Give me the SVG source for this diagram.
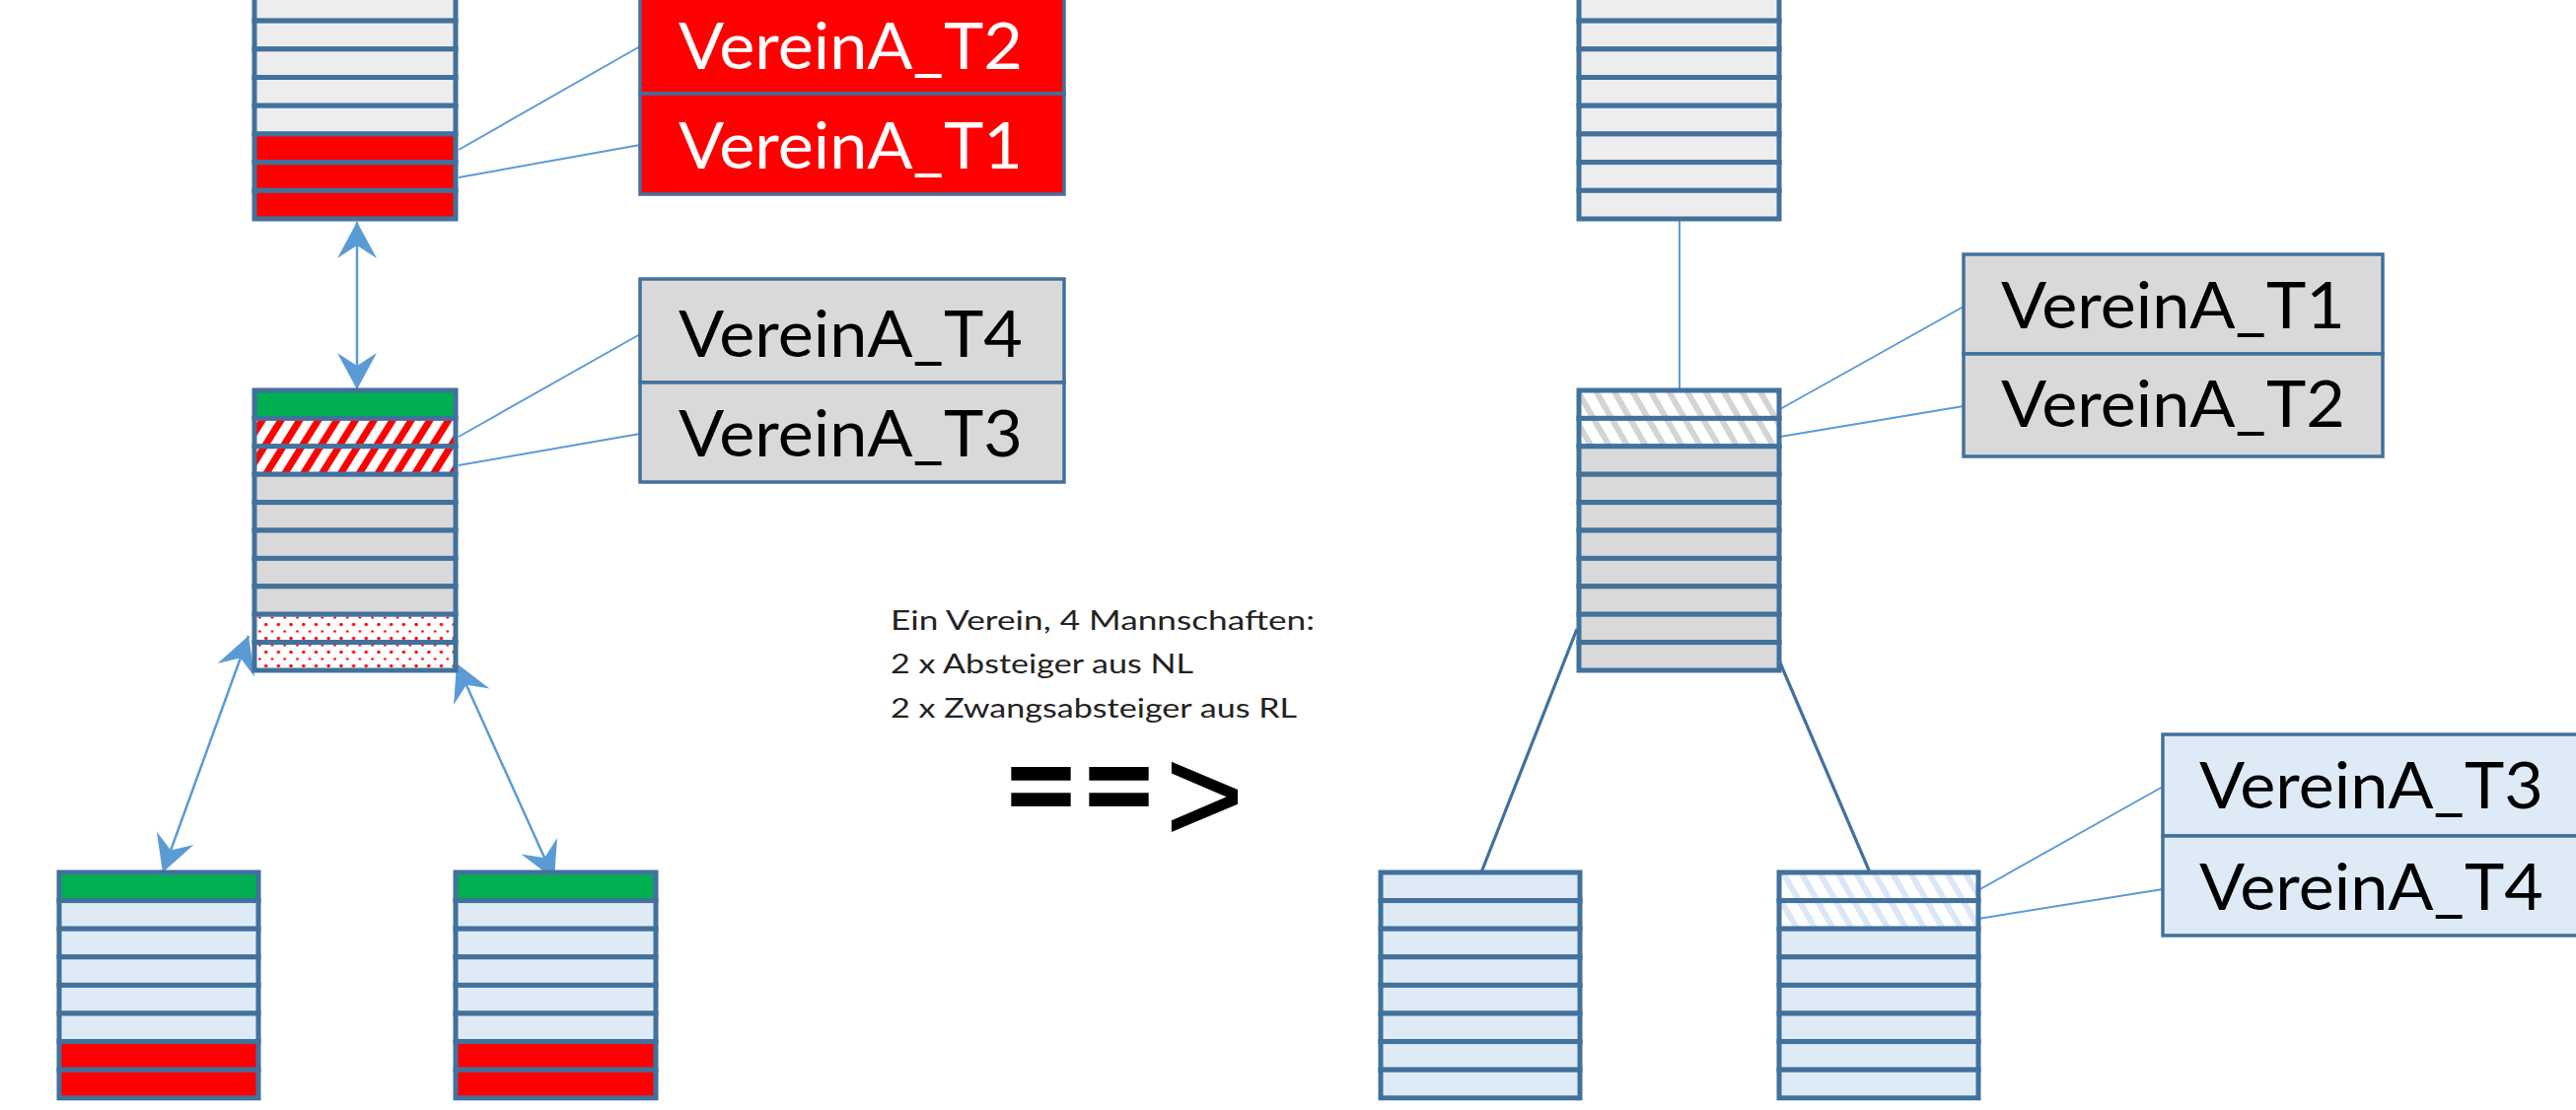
<svg xmlns="http://www.w3.org/2000/svg" width="2612" height="1126" viewBox="0 0 2612 1126">
<style>
.r{stroke:#41719c;stroke-width:5}
.g1{fill:#ededed}
.g2{fill:#d9d9d9}
.rd{fill:#ff0000}
.gr{fill:#00b050}
.lb{fill:#deebf7}
.hr{fill:url(#hatchRed)}
.hg{fill:url(#hatchGray)}
.hb{fill:url(#hatchBlue)}
.dt{fill:url(#dotsRed)}
.box{stroke:#41719c;stroke-width:3.5}
.lbl{font-family:Lato,"Open Sans",sans-serif;font-size:66px}
.note{font-family:Lato,"Open Sans",sans-serif;font-size:26px;fill:#222}
.thin{stroke:#5b9bd5;stroke-width:2;fill:none}
.arr{stroke:#5b9bd5;stroke-width:2.5;fill:none;marker-start:url(#ah);marker-end:url(#ah)}
.tree{stroke:#41719c;stroke-width:3.2;fill:none}
</style>
<defs>
<pattern id="hatchRed" patternUnits="userSpaceOnUse" width="16" height="16" patternTransform="rotate(32)">
<rect width="16" height="16" fill="#fff"/><rect width="7" height="16" fill="#ff0000"/>
</pattern>
<pattern id="hatchGray" patternUnits="userSpaceOnUse" width="16" height="16" patternTransform="rotate(-30)">
<rect width="16" height="16" fill="#fff"/><rect width="6" height="16" fill="#d4d4d4"/>
</pattern>
<pattern id="hatchBlue" patternUnits="userSpaceOnUse" width="16" height="16" patternTransform="rotate(-30)">
<rect width="16" height="16" fill="#fff"/><rect width="6" height="16" fill="#dbe7f5"/>
</pattern>
<pattern id="dotsRed" patternUnits="userSpaceOnUse" width="12.7" height="14">
<rect width="12.7" height="14" fill="#fff"/><circle cx="3" cy="3.5" r="1.7" fill="#ff0000"/><circle cx="9.35" cy="10.5" r="1.3" fill="#ff0000"/>
</pattern>
<marker id="ah" viewBox="-40 -22 42 44" refX="0" refY="0" markerWidth="42" markerHeight="44" markerUnits="userSpaceOnUse" orient="auto-start-reverse">
<path d="M0,0 L-37,-20 L-24,0 L-37,20 Z" fill="#5b9bd5"/>
</marker>
</defs>
<rect width="2612" height="1126" fill="#fff"/>

<g id="connectors">
<line class="thin" x1="465" y1="152" x2="649" y2="47"/>
<line class="thin" x1="465" y1="180" x2="649" y2="147"/>
<line class="thin" x1="465" y1="443" x2="649" y2="339"/>
<line class="thin" x1="465" y1="472" x2="649" y2="440"/>
<line class="arr" x1="362" y1="225" x2="362" y2="395"/>
<line class="arr" x1="252" y1="645" x2="165" y2="885"/>
<line class="arr" x1="463" y1="673" x2="562" y2="892"/>
<line class="thin" x1="1703" y1="222" x2="1703" y2="396"/>
<line class="tree" x1="1599" y1="638" x2="1502" y2="885"/>
<line class="tree" x1="1804" y1="670" x2="1899" y2="892"/>
<line class="thin" x1="1805" y1="415" x2="1991" y2="311"/>
<line class="thin" x1="1805" y1="443" x2="1991" y2="412"/>
<line class="thin" x1="2006" y1="903" x2="2193" y2="798"/>
<line class="thin" x1="2006" y1="932" x2="2193" y2="902"/>
</g>

<g id="stack-left-top">
<rect class="r g1" x="258" y="-7.6" width="204" height="28.7"/>
<rect class="r g1" x="258" y="21.1" width="204" height="28.7"/>
<rect class="r g1" x="258" y="49.8" width="204" height="28.7"/>
<rect class="r g1" x="258" y="78.5" width="204" height="28.7"/>
<rect class="r g1" x="258" y="107.2" width="204" height="28.7"/>
<rect class="r rd" x="258" y="135.9" width="204" height="28.7"/>
<rect class="r rd" x="258" y="164.6" width="204" height="28.7"/>
<rect class="r rd" x="258" y="193.3" width="204" height="28.7"/>
</g>

<g id="stack-left-middle">
<rect class="r gr" x="258" y="396" width="204" height="28.4"/>
<rect class="r hr" x="258" y="424.4" width="204" height="28.4"/>
<rect class="r hr" x="258" y="452.8" width="204" height="28.4"/>
<rect class="r g2" x="258" y="481.2" width="204" height="28.4"/>
<rect class="r g2" x="258" y="509.6" width="204" height="28.4"/>
<rect class="r g2" x="258" y="538" width="204" height="28.4"/>
<rect class="r g2" x="258" y="566.4" width="204" height="28.4"/>
<rect class="r g2" x="258" y="594.8" width="204" height="28.4"/>
<rect class="r dt" x="258" y="623.2" width="204" height="28.4"/>
<rect class="r dt" x="258" y="651.6" width="204" height="28.4"/>
</g>

<g id="stack-left-bottom-1">
<rect class="r gr" x="60" y="885" width="202" height="28.6"/>
<rect class="r lb" x="60" y="913.6" width="202" height="28.6"/>
<rect class="r lb" x="60" y="942.2" width="202" height="28.6"/>
<rect class="r lb" x="60" y="970.8" width="202" height="28.6"/>
<rect class="r lb" x="60" y="999.4" width="202" height="28.6"/>
<rect class="r lb" x="60" y="1028" width="202" height="28.6"/>
<rect class="r rd" x="60" y="1056.6" width="202" height="28.6"/>
<rect class="r rd" x="60" y="1085.2" width="202" height="28.6"/>
</g>

<g id="stack-left-bottom-2">
<rect class="r gr" x="462" y="885" width="203" height="28.6"/>
<rect class="r lb" x="462" y="913.6" width="203" height="28.6"/>
<rect class="r lb" x="462" y="942.2" width="203" height="28.6"/>
<rect class="r lb" x="462" y="970.8" width="203" height="28.6"/>
<rect class="r lb" x="462" y="999.4" width="203" height="28.6"/>
<rect class="r lb" x="462" y="1028" width="203" height="28.6"/>
<rect class="r rd" x="462" y="1056.6" width="203" height="28.6"/>
<rect class="r rd" x="462" y="1085.2" width="203" height="28.6"/>
</g>

<g id="label-red-T2-T1">
<rect class="box rd" x="649" y="-6" width="430" height="101"/>
<rect class="box rd" x="649" y="95" width="430" height="102"/>
<text class="lbl" x="688" y="70" fill="#fff" textLength="349" lengthAdjust="spacingAndGlyphs">VereinA_T2</text>
<text class="lbl" x="688" y="171" fill="#fff" textLength="349" lengthAdjust="spacingAndGlyphs">VereinA_T1</text>
</g>

<g id="label-gray-T4-T3">
<rect class="box g2" x="649" y="283" width="430" height="105"/>
<rect class="box g2" x="649" y="388" width="430" height="101"/>
<text class="lbl" x="688" y="362" fill="#000" textLength="349" lengthAdjust="spacingAndGlyphs">VereinA_T4</text>
<text class="lbl" x="688" y="463" fill="#000" textLength="349" lengthAdjust="spacingAndGlyphs">VereinA_T3</text>
</g>

<g id="note">
<text class="note" x="903" y="639" textLength="430" lengthAdjust="spacingAndGlyphs">Ein Verein, 4 Mannschaften:</text>
<text class="note" x="903" y="683" textLength="307" lengthAdjust="spacingAndGlyphs">2 x Absteiger aus NL</text>
<text class="note" x="903" y="728" textLength="412" lengthAdjust="spacingAndGlyphs">2 x Zwangsabsteiger aus RL</text>
<text fill="#000"><tspan x="1016" y="848" font-family="Lato,'Open Sans',sans-serif" font-size="150" font-weight="bold" textLength="158" lengthAdjust="spacingAndGlyphs">==</tspan><tspan x="1182" y="853" font-family="'Liberation Sans',Arial,sans-serif" font-size="135" stroke="#000" stroke-width="1.5">&gt;</tspan></text>
</g>

<g id="stack-right-top">
<rect class="r g1" x="1601" y="-7.6" width="203" height="28.7"/>
<rect class="r g1" x="1601" y="21.1" width="203" height="28.7"/>
<rect class="r g1" x="1601" y="49.8" width="203" height="28.7"/>
<rect class="r g1" x="1601" y="78.5" width="203" height="28.7"/>
<rect class="r g1" x="1601" y="107.2" width="203" height="28.7"/>
<rect class="r g1" x="1601" y="135.9" width="203" height="28.7"/>
<rect class="r g1" x="1601" y="164.6" width="203" height="28.7"/>
<rect class="r g1" x="1601" y="193.3" width="203" height="28.7"/>
</g>

<g id="stack-right-middle">
<rect class="r hg" x="1601" y="396" width="203" height="28.4"/>
<rect class="r hg" x="1601" y="424.4" width="203" height="28.4"/>
<rect class="r g2" x="1601" y="452.8" width="203" height="28.4"/>
<rect class="r g2" x="1601" y="481.2" width="203" height="28.4"/>
<rect class="r g2" x="1601" y="509.6" width="203" height="28.4"/>
<rect class="r g2" x="1601" y="538" width="203" height="28.4"/>
<rect class="r g2" x="1601" y="566.4" width="203" height="28.4"/>
<rect class="r g2" x="1601" y="594.8" width="203" height="28.4"/>
<rect class="r g2" x="1601" y="623.2" width="203" height="28.4"/>
<rect class="r g2" x="1601" y="651.6" width="203" height="28.4"/>
</g>

<g id="label-gray-T1-T2">
<rect class="box g2" x="1991" y="258" width="425" height="101"/>
<rect class="box g2" x="1991" y="359" width="425" height="104"/>
<text class="lbl" x="2029" y="333" fill="#000" textLength="349" lengthAdjust="spacingAndGlyphs">VereinA_T1</text>
<text class="lbl" x="2029" y="433" fill="#000" textLength="349" lengthAdjust="spacingAndGlyphs">VereinA_T2</text>
</g>

<g id="stack-right-bottom-1">
<rect class="r lb" x="1400" y="885" width="202" height="28.6"/>
<rect class="r lb" x="1400" y="913.6" width="202" height="28.6"/>
<rect class="r lb" x="1400" y="942.2" width="202" height="28.6"/>
<rect class="r lb" x="1400" y="970.8" width="202" height="28.6"/>
<rect class="r lb" x="1400" y="999.4" width="202" height="28.6"/>
<rect class="r lb" x="1400" y="1028" width="202" height="28.6"/>
<rect class="r lb" x="1400" y="1056.6" width="202" height="28.6"/>
<rect class="r lb" x="1400" y="1085.2" width="202" height="28.6"/>
</g>

<g id="stack-right-bottom-2">
<rect class="r hb" x="1804" y="885" width="202" height="28.6"/>
<rect class="r hb" x="1804" y="913.6" width="202" height="28.6"/>
<rect class="r lb" x="1804" y="942.2" width="202" height="28.6"/>
<rect class="r lb" x="1804" y="970.8" width="202" height="28.6"/>
<rect class="r lb" x="1804" y="999.4" width="202" height="28.6"/>
<rect class="r lb" x="1804" y="1028" width="202" height="28.6"/>
<rect class="r lb" x="1804" y="1056.6" width="202" height="28.6"/>
<rect class="r lb" x="1804" y="1085.2" width="202" height="28.6"/>
</g>

<g id="label-blue-T3-T4">
<rect class="box lb" x="2193" y="745" width="460" height="103"/>
<rect class="box lb" x="2193" y="848" width="460" height="101"/>
<text class="lbl" x="2230" y="820" fill="#000" textLength="349" lengthAdjust="spacingAndGlyphs">VereinA_T3</text>
<text class="lbl" x="2230" y="923" fill="#000" textLength="349" lengthAdjust="spacingAndGlyphs">VereinA_T4</text>
</g>
</svg>
